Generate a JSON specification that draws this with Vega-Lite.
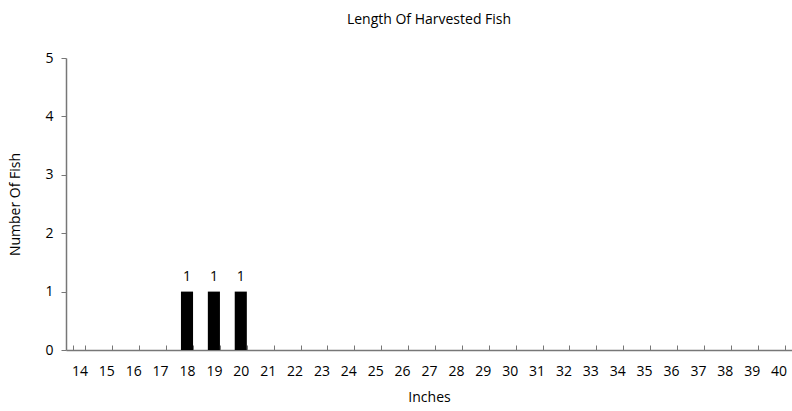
{
  "$schema": "https://vega.github.io/schema/vega-lite/v6.json",
  "autosize": {"type": "none"},
  "width": 726,
  "height": 292,
  "padding": {"left": 66, "top": 58, "right": 0, "bottom": 61},
  "background": "white",
  "title": {"text": "Length Of Harvested Fish", "fontSize": 14, "fontWeight": "normal", "font": "Open Sans", "color": "#000000", "offset": 24},
  "config": {"view": {"stroke": null}, "font": "Open Sans"},
  "data": {"values": [
    {"inch": "14", "n": 0}, {"inch": "15", "n": 0}, {"inch": "16", "n": 0}, {"inch": "17", "n": 0},
    {"inch": "18", "n": 1}, {"inch": "19", "n": 1}, {"inch": "20", "n": 1}, {"inch": "21", "n": 0},
    {"inch": "22", "n": 0}, {"inch": "23", "n": 0}, {"inch": "24", "n": 0}, {"inch": "25", "n": 0},
    {"inch": "26", "n": 0}, {"inch": "27", "n": 0}, {"inch": "28", "n": 0}, {"inch": "29", "n": 0},
    {"inch": "30", "n": 0}, {"inch": "31", "n": 0}, {"inch": "32", "n": 0}, {"inch": "33", "n": 0},
    {"inch": "34", "n": 0}, {"inch": "35", "n": 0}, {"inch": "36", "n": 0}, {"inch": "37", "n": 0},
    {"inch": "38", "n": 0}, {"inch": "39", "n": 0}, {"inch": "40", "n": 0}
  ]},
  "encoding": {
    "x": {"field": "inch", "type": "ordinal", "sort": null,
      "scale": {"paddingInner": 0.55, "paddingOuter": 0.275},
      "axis": {"title": "Inches", "labelAngle": 0, "labelFontSize": 14, "labelColor": "#000", "titleFontSize": 14, "titleFontWeight": "normal", "titleColor": "#000", "titlePadding": 12, "domainColor": "#777", "tickColor": "#777", "tickSize": -5, "tickBand": "extent", "labelPadding": 19, "domainWidth": 1.5}},
    "y": {"field": "n", "type": "quantitative",
      "scale": {"domain": [0, 5], "nice": false},
      "axis": {"title": "Number Of Fish", "values": [0, 1, 2, 3, 4, 5], "labelOverlap": false, "grid": false, "labelFontSize": 14, "labelColor": "#000", "titleFontSize": 14, "titleFontWeight": "normal", "titleColor": "#000", "titlePadding": 22, "domainColor": "#777", "tickColor": "#777", "tickSize": 5, "labelPadding": 8, "domainWidth": 1.5}}
  },
  "layer": [
    {"mark": {"type": "bar", "color": "#000000"}},
    {"transform": [{"filter": "datum.n > 0"}],
     "mark": {"type": "text", "baseline": "bottom", "dy": -8, "fontSize": 14, "color": "#000"},
     "encoding": {"text": {"field": "n", "type": "quantitative"}}}
  ]
}
